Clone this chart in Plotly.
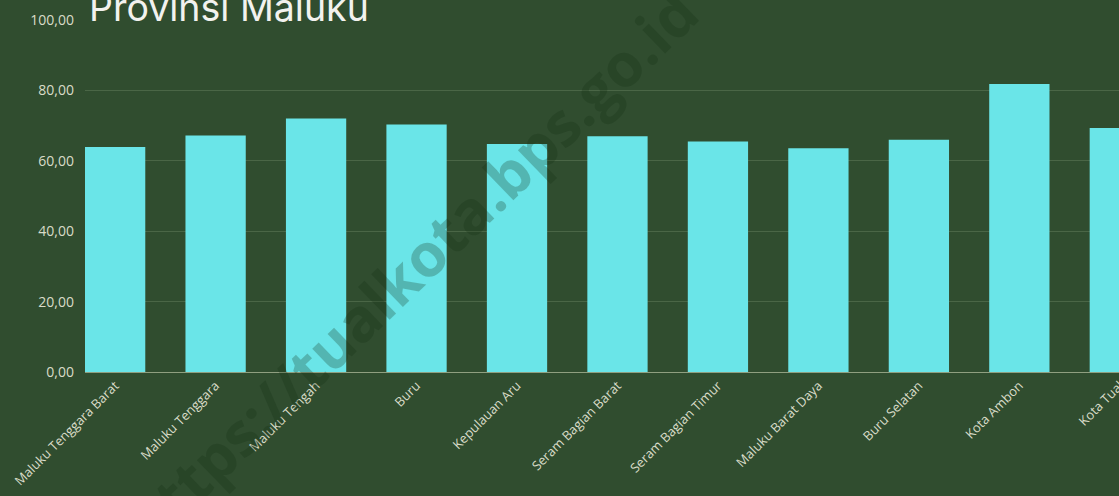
import plotly.graph_objects as go

categories = [
    "Maluku Tenggara Barat", "Maluku Tenggara", "Maluku Tengah", "Buru",
    "Kepulauan Aru", "Seram Bagian Barat", "Seram Bagian Timur",
    "Maluku Barat Daya", "Buru Selatan", "Kota Ambon", "Kota Tual",
]
values = [63.9, 67.2, 72.0, 70.3, 64.8, 67.0, 65.5, 63.6, 66.0, 81.8, 69.3]
y_ticks = [0, 20, 40, 60, 80, 100]
title_text = "Provinsi Maluku"
watermark = "https://tualkota.bps.go.id"

BG = "#304d2f"
BAR = "#6ae5e8"
TXT = "#d9dcc8"

W, H = 1160, 496
L, B, T = 85, 124, 20

fig = go.Figure()
fig.add_trace(go.Bar(
    x=list(range(len(categories))), y=values,
    marker=dict(color=BAR, line=dict(width=0)),
    width=0.6,
))

fig.update_layout(
    width=W, height=H,
    paper_bgcolor=BG, plot_bgcolor=BG,
    margin=dict(l=L, r=0, t=T, b=B),
    separators=",.",
    showlegend=False,
    font=dict(family="Open Sans", color=TXT),
)
fig.update_xaxes(
    range=[-0.3, 10.4],
    tickmode="array", tickvals=list(range(len(categories))), ticktext=categories,
    tickangle=-45, tickfont=dict(size=13, color=TXT, family="Open Sans"),
    showgrid=False, zeroline=False,
    showline=True, linecolor="#8f9f80", linewidth=1,
    ticks="",
)
fig.update_yaxes(
    range=[0, 100], tickvals=y_ticks, tickformat=".2f",
    tickfont=dict(size=14, color=TXT, family="Open Sans"),
    showgrid=True, gridcolor="#4a6646", gridwidth=1,
    zeroline=False, showline=False, ticks="",
    ticklabelstandoff=10,
)

fig.add_annotation(
    text=title_text, xref="paper", yref="paper",
    x=0.0, y=1.0, xanchor="left", yanchor="bottom",
    xshift=2, yshift=-12,
    showarrow=False,
    font=dict(family="Inter", size=37.5, color="#f2f2ee"),
)

pw = W - L
ph = H - T - B
fig.add_annotation(
    text="<b>" + watermark + "</b>", xref="paper", yref="paper",
    x=(410 - L) / pw, y=(H - B - 268) / ph,
    xanchor="center", yanchor="middle",
    textangle=-44, showarrow=False,
    font=dict(family="Open Sans", size=60, color="rgba(20,45,20,0.26)"),
)

fig.write_html(
    "out.html",
    config={"displayModeBar": False},
    post_script="document.body.style.margin='0';document.body.style.overflow='hidden';",
)
